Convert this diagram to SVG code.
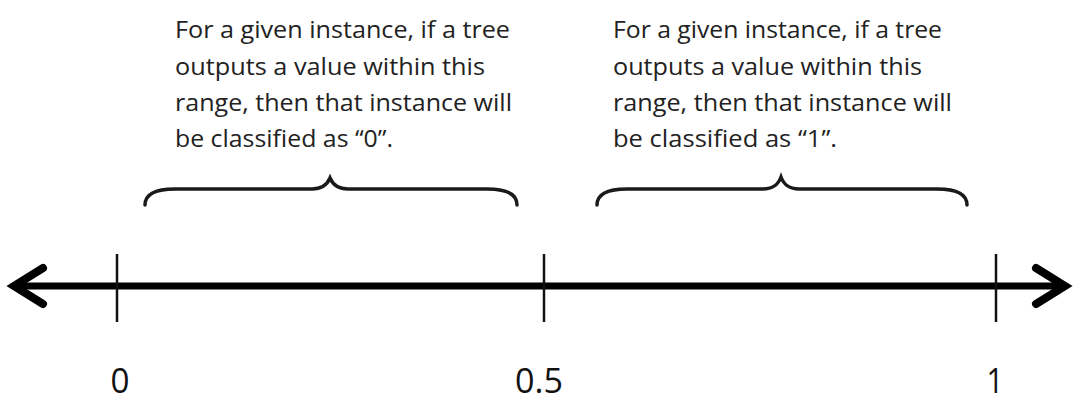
<svg xmlns="http://www.w3.org/2000/svg" width="1075" height="403" viewBox="0 0 1075 403">
<style>
.t{font-family:"Open Sans","Liberation Sans",sans-serif;font-size:24px;fill:#222}
.n{font-family:"Open Sans","Liberation Sans",sans-serif;font-size:35px;fill:#111}
.br{fill:none;stroke:#1a1a1a;stroke-width:3.5;stroke-linecap:round}
.tick{stroke:#111;stroke-width:2.5}
</style>
<rect width="1075" height="403" fill="#fff"/>
<g id="connectors">
<line x1="16" y1="286" x2="1062" y2="286" stroke="#000" stroke-width="7"/>
<polyline points="43,268 14,286 43,304" fill="none" stroke="#000" stroke-width="8" stroke-linecap="round" stroke-linejoin="miter"/>
<polyline points="1036,268 1065,286 1036,304" fill="none" stroke="#000" stroke-width="8" stroke-linecap="round" stroke-linejoin="miter"/>
</g>
<g id="tick-0"><line class="tick" x1="117" y1="254" x2="117" y2="322"/><text class="n" x="120" y="393" text-anchor="middle" textLength="19" lengthAdjust="spacingAndGlyphs">0</text></g>
<g id="tick-05"><line class="tick" x1="544" y1="254" x2="544" y2="322"/><text class="n" x="539" y="393" text-anchor="middle" textLength="48" lengthAdjust="spacingAndGlyphs">0.5</text></g>
<g id="tick-1"><line class="tick" x1="996" y1="254" x2="996" y2="322"/><text class="n" x="995" y="393" text-anchor="middle" textLength="17" lengthAdjust="spacingAndGlyphs">1</text></g>
<g id="brace-0">
<path class="br" d="M145,205 C145,195 153,189 175,189 L312,189 C322,189 327,185 330,178 C333,185 338,189 348,189 L487,189 C509,189 517,195 517,205"/>
</g>
<g id="brace-1">
<path class="br" d="M597,205 C597,195 605,189 627,189 L763,189 C773,189 778,185 781,177 C784,185 789,189 799,189 L937,189 C959,189 967,195 967,205"/>
</g>
<g id="label-0">
<text class="t" x="175" y="38" textLength="335" lengthAdjust="spacingAndGlyphs">For a given instance, if a tree</text>
<text class="t" x="175" y="75" textLength="310" lengthAdjust="spacingAndGlyphs">outputs a value within this</text>
<text class="t" x="175" y="111" textLength="337" lengthAdjust="spacingAndGlyphs">range, then that instance will</text>
<text class="t" x="175" y="147" textLength="218" lengthAdjust="spacingAndGlyphs">be classified as “0”.</text>
</g>
<g id="label-1">
<text class="t" x="613" y="38" textLength="329" lengthAdjust="spacingAndGlyphs">For a given instance, if a tree</text>
<text class="t" x="613" y="75" textLength="309" lengthAdjust="spacingAndGlyphs">outputs a value within this</text>
<text class="t" x="613" y="111" textLength="339" lengthAdjust="spacingAndGlyphs">range, then that instance will</text>
<text class="t" x="613" y="147" textLength="224" lengthAdjust="spacingAndGlyphs">be classified as “1”.</text>
</g>
</svg>
